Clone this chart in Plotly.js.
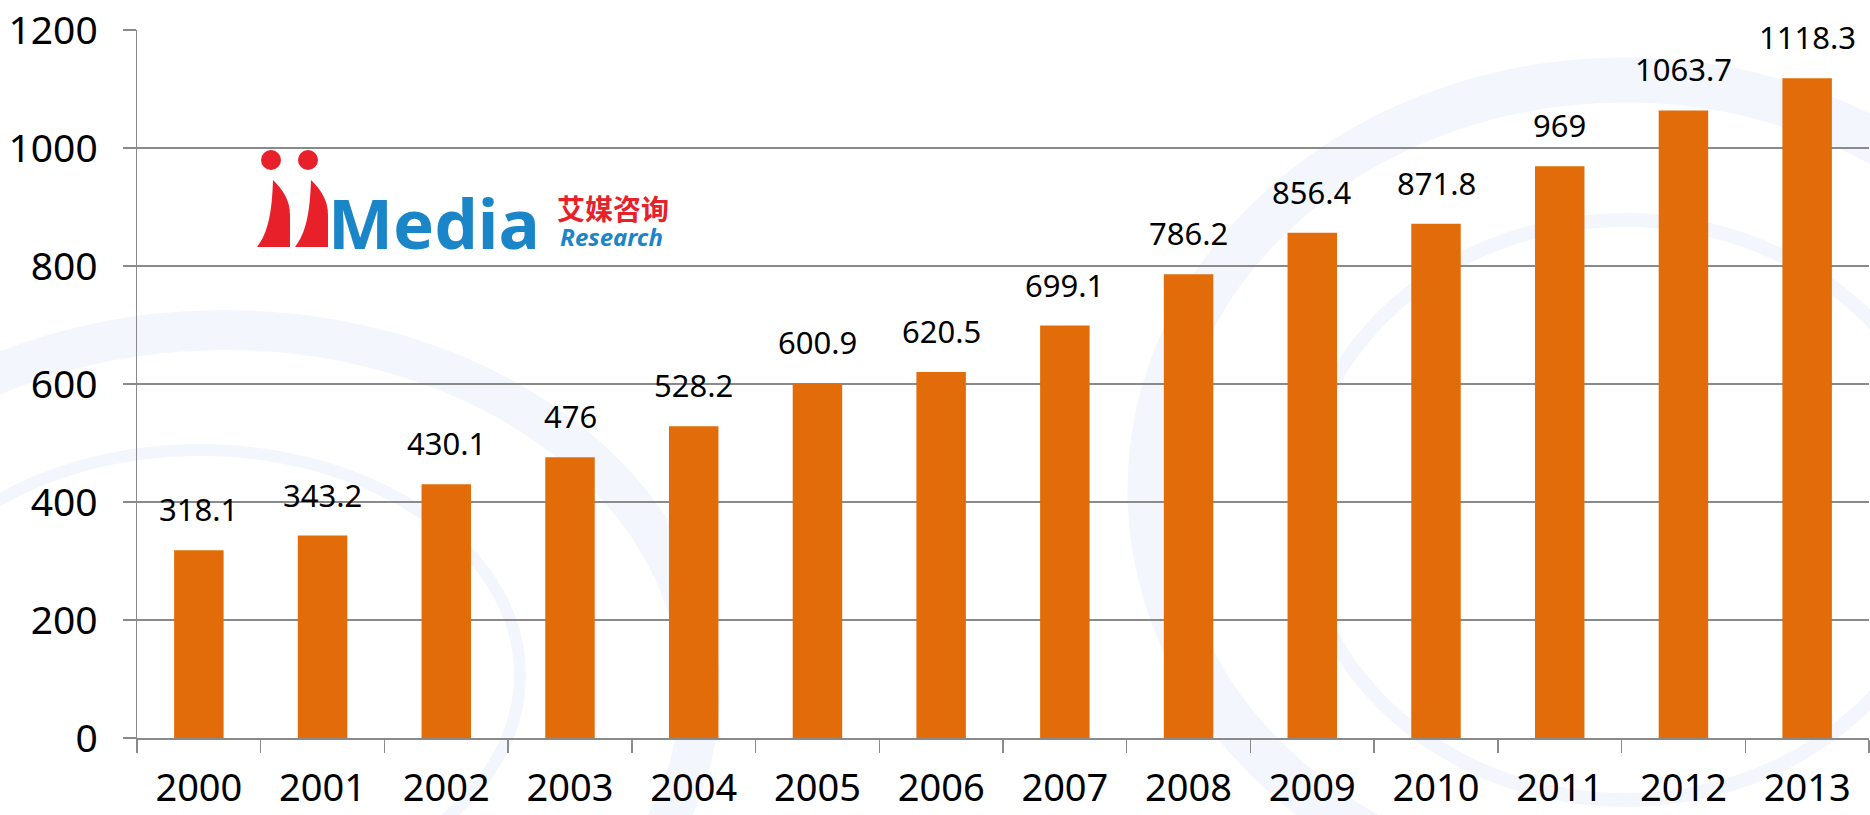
<!DOCTYPE html>
<html>
<head>
<meta charset="utf-8">
<script src="https://cdn.plot.ly/plotly-3.0.1.min.js"></script>
<style>
html,body{margin:0;padding:0;background:#fff;}
#chart{width:1870px;height:815px;}
</style>
</head>
<body>
<div id="chart"></div>
<script>
// Data
var years = ['2000','2001','2002','2003','2004','2005','2006','2007','2008','2009','2010','2011','2012','2013'];
var values = [318.1, 343.2, 430.1, 476, 528.2, 600.9, 620.5, 699.1, 786.2, 856.4, 871.8, 969, 1063.7, 1118.3];
var valueLabels = ['318.1','343.2','430.1','476','528.2','600.9','620.5','699.1','786.2','856.4','871.8','969','1063.7','1118.3'];
var yTicks = [0, 200, 400, 600, 800, 1000, 1200];

var barColor = '#E36C0A';
var gridColor = '#8a8a8a';
var fontFam = '"Noto Sans", "Open Sans", "DejaVu Sans", sans-serif';

var trace = {
  type: 'bar',
  x: years,
  y: values,
  width: 0.4,
  marker: {color: barColor, line: {width: 0}},
  hoverinfo: 'x+y'
};

// category axis: annotations positioned by category index
var annotations = years.map(function(yr, i){
  return {
    x: i, y: values[i], xref: 'x', yref: 'y',
    text: valueLabels[i], showarrow: false,
    xanchor: 'center', yanchor: 'bottom', yshift: 18,
    font: {family: fontFam, size: 31, color: '#000'}
  };
});

// Logo text (paper coords relative to plot area 137..1869 x, 30..738 y)
function px(x){ return (x - 137) / 1732; }
function py(y){ return (738 - y) / 708; }

annotations.push({
  xref: 'paper', yref: 'paper', x: px(434), y: py(222),
  text: '<b>Media</b>', showarrow: false, xanchor: 'center', yanchor: 'middle',
  font: {family: '"Noto Sans", sans-serif', size: 69, color: '#1A86C8'}
});
annotations.push({
  xref: 'paper', yref: 'paper', x: px(613), y: py(208),
  text: '<b>艾媒咨询</b>', showarrow: false, xanchor: 'center', yanchor: 'middle',
  font: {family: '"Noto Sans CJK SC", sans-serif', size: 28, color: '#E8202A'}
});
annotations.push({
  xref: 'paper', yref: 'paper', x: px(611), y: py(236),
  text: '<b><i>Research</i></b>', showarrow: false, xanchor: 'center', yanchor: 'middle',
  font: {family: '"Noto Sans", sans-serif', size: 24, color: '#1A86C8'}
});

var logoSvg = '<svg xmlns="http://www.w3.org/2000/svg" width="90" height="105" viewBox="0 0 90 105" preserveAspectRatio="none">' +
  '<circle cx="21" cy="15" r="10" fill="#E8202A"/>' +
  '<circle cx="58" cy="15" r="10" fill="#E8202A"/>' +
  '<path d="M7,102 C18,88 22,68 23,35 C33,45 40,55 40,70 L40,102 Z" fill="#E8202A"/>' +
  '<path d="M45,102 C56,88 60,68 61,35 C71,45 78,55 78,70 L78,102 Z" fill="#E8202A"/>' +
  '</svg>';

// faint watermark arcs in the background (decoration)
var wm = '#f3f6fc';
var shapes = [
  {type: 'circle', xref: 'paper', yref: 'paper', layer: 'below',
   x0: px(1150), x1: px(2100), y0: py(900), y1: py(80), line: {color: wm, width: 45}},
  {type: 'circle', xref: 'paper', yref: 'paper', layer: 'below',
   x0: px(1300), x1: px(1950), y0: py(800), y1: py(220), line: {color: wm, width: 14}},
  {type: 'circle', xref: 'paper', yref: 'paper', layer: 'below',
   x0: px(-250), x1: px(700), y0: py(1050), y1: py(330), line: {color: wm, width: 40}},
  {type: 'circle', xref: 'paper', yref: 'paper', layer: 'below',
   x0: px(-120), x1: px(520), y0: py(900), y1: py(450), line: {color: wm, width: 12}}
];

var layout = {
  width: 1870, height: 815,
  margin: {l: 137, r: 1, t: 30, b: 77},
  paper_bgcolor: '#ffffff',
  plot_bgcolor: 'rgba(0,0,0,0)',
  showlegend: false,
  bargap: 0.6,
  font: {family: fontFam, color: '#000'},
  xaxis: {
    type: 'category',
    range: [-0.5, years.length - 0.5],
    showline: true, linecolor: gridColor, linewidth: 1.5,
    ticks: 'outside', tickson: 'boundaries', ticklen: 13, tickcolor: gridColor, tickwidth: 1.5,
    showgrid: false, tickangle: 0,
    tickfont: {family: fontFam, size: 38, color: '#000'},
    ticklabelstandoff: 16
  },
  yaxis: {
    range: [0, 1200],
    tickvals: yTicks,
    ticktext: yTicks.map(String),
    showline: true, linecolor: gridColor, linewidth: 1.5,
    ticks: 'outside', ticklen: 13, tickcolor: gridColor, tickwidth: 1.5,
    showgrid: true, gridcolor: gridColor, gridwidth: 1.5,
    zeroline: false,
    tickfont: {family: fontFam, size: 39, color: '#000'},
    ticklabelstandoff: 17
  },
  shapes: shapes,
  annotations: annotations,
  images: [{
    source: 'data:image/svg+xml;charset=utf-8,' + encodeURIComponent(logoSvg),
    xref: 'paper', yref: 'paper',
    x: px(250), y: py(145), sizex: 90/1732, sizey: 105/708,
    xanchor: 'left', yanchor: 'top', sizing: 'stretch', layer: 'above'
  }]
};

Plotly.newPlot('chart', [trace], layout, {displayModeBar: false, staticPlot: true});
</script>
</body>
</html>
